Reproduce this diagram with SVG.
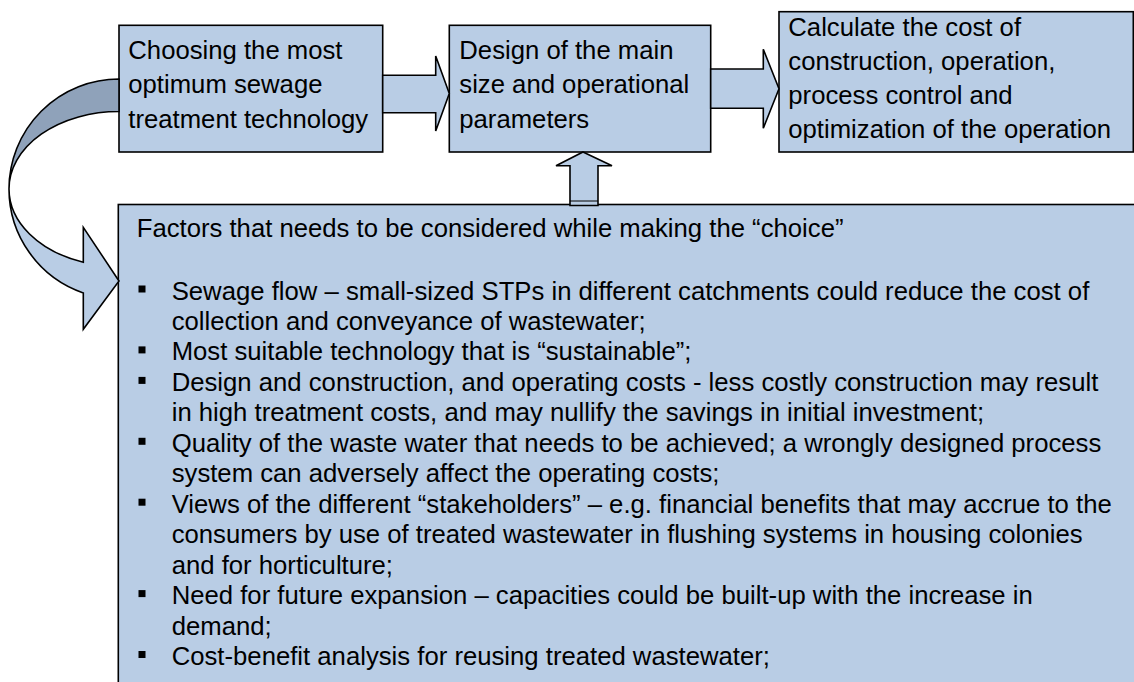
<svg xmlns="http://www.w3.org/2000/svg" width="1134" height="682" viewBox="0 0 1134 682">
  <style>
    .box { fill: #B9CDE5; stroke: #000; stroke-width: 1.6; }
    .arr { fill: #B9CDE5; stroke: #000; stroke-width: 1.6; stroke-linejoin: miter; }
    .dark { fill: #8FA2BA; stroke: #000; stroke-width: 1.6; }
    .t { font-family: "Liberation Sans", Arial, sans-serif; font-size: 25.7px; fill: #000; }
    .b { fill: #000; }
  </style>
  <rect width="1134" height="682" fill="#fff"/>

  <g id="factors">
    <rect class="box" x="118.3" y="204.5" width="1030" height="500"/>
    <text class="t" x="136.7" y="237">Factors that needs to be considered while making the “choice”</text>
    <g class="b">
      <rect x="138.5" y="285.5" width="7" height="7"/>
      <rect x="138.5" y="346.4" width="7" height="7"/>
      <rect x="138.5" y="376.9" width="7" height="7"/>
      <rect x="138.5" y="437.8" width="7" height="7"/>
      <rect x="138.5" y="498.7" width="7" height="7"/>
      <rect x="138.5" y="590.1" width="7" height="7"/>
      <rect x="138.5" y="651" width="7" height="7"/>
    </g>
    <text class="t">
      <tspan x="171.7" y="299.5">Sewage flow – small-sized STPs in different catchments could reduce the cost of</tspan>
      <tspan x="171.7" y="330">collection and conveyance of wastewater;</tspan>
      <tspan x="171.7" y="360.4">Most suitable technology that is “sustainable”;</tspan>
      <tspan x="171.7" y="390.9">Design and construction, and operating costs - less costly construction may result</tspan>
      <tspan x="171.7" y="421.3">in high treatment costs, and may nullify the savings in initial investment;</tspan>
      <tspan x="171.7" y="451.8">Quality of the waste water that needs to be achieved; a wrongly designed process</tspan>
      <tspan x="171.7" y="482.3">system can adversely affect the operating costs;</tspan>
      <tspan x="171.7" y="512.7">Views of the different “stakeholders” – e.g. financial benefits that may accrue to the</tspan>
      <tspan x="171.7" y="543.2">consumers by use of treated wastewater in flushing systems in housing colonies</tspan>
      <tspan x="171.7" y="573.6">and for horticulture;</tspan>
      <tspan x="171.7" y="604.1">Need for future expansion – capacities could be built-up with the increase in</tspan>
      <tspan x="171.7" y="634.6">demand;</tspan>
      <tspan x="171.7" y="665">Cost-benefit analysis for reusing treated wastewater;</tspan>
    </text>
  </g>

  <g id="box1">
    <rect class="box" x="119" y="25.3" width="263.7" height="126.7"/>
    <text class="t">
      <tspan x="128.3" y="59.3">Choosing the most</tspan>
      <tspan x="128.3" y="93.4">optimum sewage</tspan>
      <tspan x="128.3" y="127.5">treatment technology</tspan>
    </text>
  </g>

  <g id="box2">
    <rect class="box" x="449.3" y="25.3" width="261.4" height="126.7"/>
    <text class="t">
      <tspan x="459.3" y="59.3">Design of the main</tspan>
      <tspan x="459.3" y="93.4">size and operational</tspan>
      <tspan x="459.3" y="127.5">parameters</tspan>
    </text>
  </g>

  <g id="box3">
    <rect class="box" x="779" y="11.7" width="354.3" height="140.3"/>
    <text class="t">
      <tspan x="788.3" y="35.5">Calculate the cost of</tspan>
      <tspan x="788.3" y="69.8">construction, operation,</tspan>
      <tspan x="788.3" y="104.1">process control and</tspan>
      <tspan x="788.3" y="138.4">optimization of the operation</tspan>
    </text>
  </g>

  <g id="connectors">
    <polygon class="arr" points="382.7,75.3 435.7,75.3 435.7,56 449.3,93.5 435.7,131 435.7,112.7 382.7,112.7"/>
    <polygon class="arr" points="710.7,69 763.3,69 763.3,49.3 779,88.8 763.3,128.3 763.3,108.3 710.7,108.3"/>
    <polygon class="arr" points="583,152 612,165.7 598,165.7 598,205.5 570,205.5 570,165.7 556,165.7"/>
    <line x1="570" y1="201" x2="598" y2="201" stroke="#000" stroke-width="1"/>
    <path class="dark" d="M119,79 A110,110 0 0 0 9,189 A110,77.5 0 0 1 119,111.5 Z"/>
    <path class="arr" d="M9,189 A110,110 0 0 0 83.3,292.9 L83.3,329.3 L119,281 L83.3,227.3 L83.3,262.2 A110,77.5 0 0 1 9,189 Z"/>
  </g>
</svg>
